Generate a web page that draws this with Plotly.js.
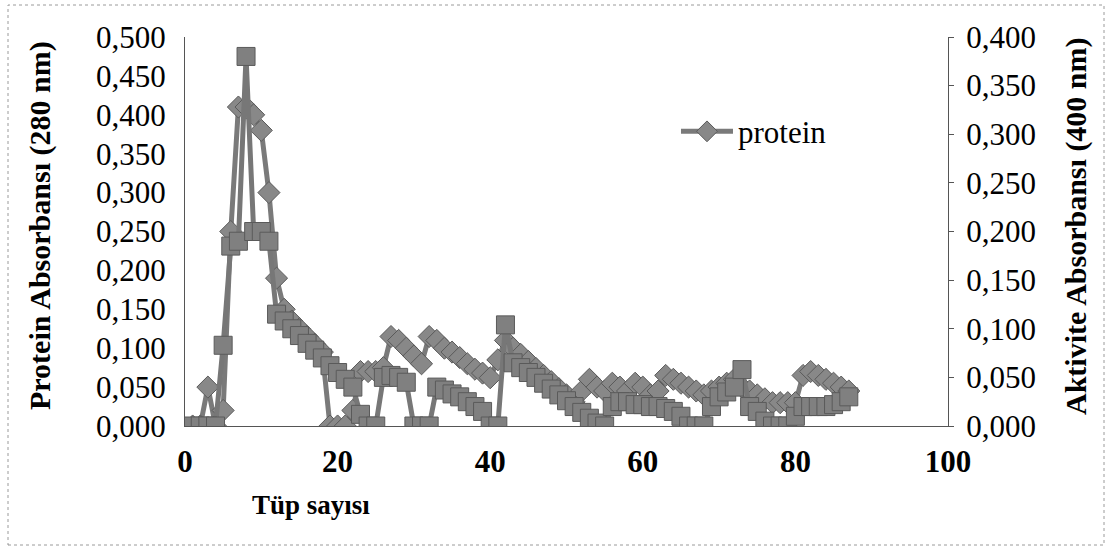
<!DOCTYPE html>
<html>
<head>
<meta charset="utf-8">
<script src="https://cdn.plot.ly/plotly-3.0.1.min.js"></script>
<style>
  html, body { margin: 0; padding: 0; background: #ffffff; }
  #chart { width: 1112px; height: 549px; }
</style>
</head>
<body>
<div id="chart"></div>
<script>
// Tube numbers
const tubes = [];
for (let i = 1; i <= 87; i++) tubes.push(i);

// Protein absorbance (280 nm), left axis
const protein = [
  0, 0, 0.05, 0, 0.02, 0.25, 0.41, 0.41, 0.40, 0.38,
  0.30, 0.19, 0.15, 0.135, 0.125, 0.115, 0.105, 0.095, 0.0, 0.0,
  0.0, 0.02, 0.07, 0.07, 0.07, 0.075, 0.115, 0.11, 0.10, 0.09,
  0.08, 0.115, 0.11, 0.10, 0.095, 0.088, 0.08, 0.073, 0.068, 0.062,
  0.085, 0.11, 0.10, 0.092, 0.083, 0.074, 0.065, 0.057, 0.048, 0.04,
  0.031, 0.045, 0.06, 0.05, 0.045, 0.055, 0.05, 0.045, 0.055, 0.05,
  0.04, 0.045, 0.065, 0.06, 0.055, 0.05, 0.045, 0.04, 0.045, 0.05,
  0.055, 0.06, 0.05, 0.045, 0.04, 0.035, 0.03, 0.03, 0.03, 0.03,
  0.065, 0.07, 0.065, 0.06, 0.055, 0.05, 0.045
];

// Activity absorbance (400 nm), right axis
const activity = [
  0, 0, 0, 0, 0.083, 0.185, 0.19, 0.38, 0.20, 0.20,
  0.19, 0.115, 0.108, 0.10, 0.093, 0.085, 0.078, 0.07, 0.062, 0.055,
  0.048, 0.04, 0.012, 0, 0, 0.05, 0.052, 0.05, 0.045, 0,
  0, 0, 0.04, 0.037, 0.033, 0.03, 0.025, 0.02, 0.015, 0,
  0, 0.104, 0.065, 0.06, 0.055, 0.05, 0.044, 0.038, 0.032, 0.026,
  0.02, 0.014, 0.008, 0.003, 0, 0.02, 0.025, 0.025, 0.022, 0.022,
  0.02, 0.02, 0.018, 0.015, 0.01, 0, 0, 0, 0.02, 0.03,
  0.035, 0.04, 0.058, 0.02, 0.015, 0.005, 0, 0, 0, 0.01,
  0.02, 0.02, 0.02, 0.02, 0.022, 0.025, 0.03
];

const xTickVals = [0, 20, 40, 60, 80, 100];
const xTickText = ['0', '20', '40', '60', '80', '100'];

const FONT = 'Liberation Serif, Times New Roman, serif';

const traces = [
  {
    x: tubes, y: activity, yaxis: 'y2', name: 'aktivite',
    type: 'scatter', mode: 'lines+markers', showlegend: false,
    line: { color: '#777777', width: 5 },
    marker: { symbol: 'square', size: 18, color: '#808080', line: { color: '#5a5a5a', width: 1 } }
  },
  {
    x: tubes, y: protein, yaxis: 'y', name: 'protein',
    type: 'scatter', mode: 'lines+markers',
    line: { color: '#7a7a7a', width: 5 },
    marker: { symbol: 'diamond', size: 17, color: '#888888', line: { color: '#5a5a5a', width: 1 } }
  }
];

const layout = {
  width: 1112, height: 549,
  margin: { l: 185, r: 164, t: 37, b: 123 },
  paper_bgcolor: '#ffffff', plot_bgcolor: '#ffffff',
  separators: ',.',
  font: { family: FONT, color: '#000000' },
  showlegend: true,
  legend: {
    x: 0.6435, y: 0.826, xanchor: 'left', yanchor: 'top',
    itemwidth: 52,
    bgcolor: 'rgba(0,0,0,0)', borderwidth: 0,
    font: { family: FONT, size: 31, color: '#000' }
  },
  xaxis: {
    range: [0, 100], tickvals: xTickVals, ticktext: xTickText,
    showgrid: false, zeroline: false, showline: true,
    linecolor: '#555', linewidth: 1, ticks: '', ticklabelstandoff: 8,
    tickfont: { family: FONT, size: 31, weight: 'bold', color: '#000' }
  },
  yaxis: {
    range: [0, 0.5], dtick: 0.05, tick0: 0, tickformat: '.3f',
    showgrid: false, zeroline: false, showline: true,
    linecolor: '#555', linewidth: 1, ticks: '', ticklabelstandoff: 12,
    tickfont: { family: FONT, size: 31, color: '#000' }
  },
  yaxis2: {
    range: [0, 0.4], dtick: 0.05, tick0: 0, tickformat: '.3f',
    overlaying: 'y', side: 'right',
    showgrid: false, zeroline: false, showline: true,
    linecolor: '#555', linewidth: 1, ticks: 'outside', ticklen: 5, tickcolor: '#555',
    ticklabelstandoff: 6,
    tickfont: { family: FONT, size: 31, color: '#000' }
  },
  annotations: [
    { text: 'Tüp sayısı', xref: 'paper', yref: 'paper', x: (311 - 185) / 763, y: (426 - 505) / 389,
      xanchor: 'center', yanchor: 'middle', showarrow: false,
      font: { family: FONT, size: 27, weight: 'bold', color: '#000' } },
    { text: 'Protein Absorbansı (280 nm)', xref: 'paper', yref: 'paper', x: (40 - 185) / 763, y: (426 - 226) / 389,
      xanchor: 'center', yanchor: 'middle', textangle: -90, showarrow: false,
      font: { family: FONT, size: 30, weight: 'bold', color: '#000' } },
    { text: 'Aktivite Absorbansı (400 nm)', xref: 'paper', yref: 'paper', x: (1076 - 185) / 763, y: (426 - 226) / 389,
      xanchor: 'center', yanchor: 'middle', textangle: -90, showarrow: false,
      font: { family: FONT, size: 30, weight: 'bold', color: '#000' } }
  ],
  shapes: [
    { type: 'rect', xref: 'paper', yref: 'paper',
      x0: (8 - 185) / 763, x1: (1104 - 185) / 763,
      y0: (426 - 545) / 389, y1: (426 - 5) / 389,
      line: { color: '#9a9a9a', width: 1, dash: 'dot' }, fillcolor: 'rgba(0,0,0,0)' }
  ]
};

Plotly.newPlot('chart', traces, layout, { displayModeBar: false, staticPlot: true });
</script>
</body>
</html>
